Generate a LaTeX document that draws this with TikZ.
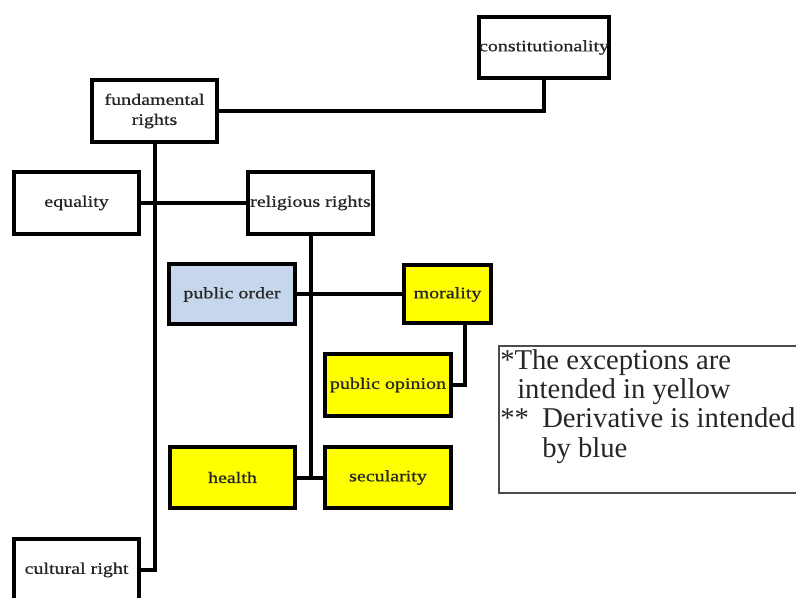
\documentclass[tikz,border=0pt]{standalone}
\usepackage{fontspec}
\setmainfont{Liberation Serif}
\newfontfamily\boxfont[FakeStretch=1.25,FakeBold=0.8]{Liberation Serif}
\definecolor{derivblue}{HTML}{C6D6EC}
\definecolor{excyellow}{RGB}{255,255,0}
\newcommand{\px}{0.75pt}
\tikzset{
  rightbox/.style={draw, line width=3pt, minimum width=125*\px, minimum height=62*\px,
    inner sep=1pt, align=center, text=black!85,
    font=\boxfont\fontsize{12}{15}\selectfont},
  exception/.style={rightbox, fill=excyellow},
  derived/.style={rightbox, fill=derivblue},
  link/.style={line width=3pt}
}
\begin{document}
\begin{tikzpicture}[x=\px, y=-\px]
  \useasboundingbox (0,0) rectangle (796,598);
  \clip (0,0) rectangle (796,598);
  % top level
  \node[rightbox] (fund) at (154.5,111) {fundamental\\rights};
  \node[rightbox, minimum width=128*\px, minimum height=61*\px, inner xsep=0pt] (const) at (544,47.5) {constitutionality};
  \node[rightbox] (equal) at (76.5,203) {equality};
  \node[rightbox] (relig) at (310.5,203) {religious rights};
  \node[rightbox] (cult) at (76.5,570) {cultural right};
  % limits of religious rights
  \node[derived, minimum width=126*\px, minimum height=60*\px] (order) at (232,294.5) {public order};
  \node[exception, minimum width=87*\px, minimum height=58*\px] (moral) at (447.5,294.5) {morality};
  \node[exception, minimum width=126*\px] (opinion) at (388,385) {public opinion};
  \node[exception, minimum height=61*\px] (health) at (232.5,477.5) {health};
  \node[exception, minimum width=126*\px, minimum height=61*\px] (secular) at (388,477.5) {secularity};
  % links
  \draw[link] (fund.east) -| (const.south);
  \draw[link] (fund.south) |- (cult.east);
  \draw[link] (equal.east) -- (relig.west);
  \draw[link] (order.east) -- (moral.west);
  \draw[link] (health.east) -- (secular.west);
  \draw[link] (relig.south) -- (relig.south |- health.east);
  \draw[link] ([xshift=13pt]moral.south) |- (opinion.east);
  % legend
  \node[draw=black!70, line width=1.5pt, anchor=north west, minimum width=312*\px,
    minimum height=147*\px] (notebox) at (498,345) {};
  \node[anchor=north west, inner sep=0pt, align=left, text=black!85,
    font=\fontsize{21.5}{22}\selectfont] (note) at (500,349)
    {*The exceptions are\\
     \hspace*{12.75pt}intended in yellow\\
     \makebox[31.5pt][l]{**}Derivative is intended\\
     \hspace*{31.5pt}by blue};
\end{tikzpicture}
\end{document}
